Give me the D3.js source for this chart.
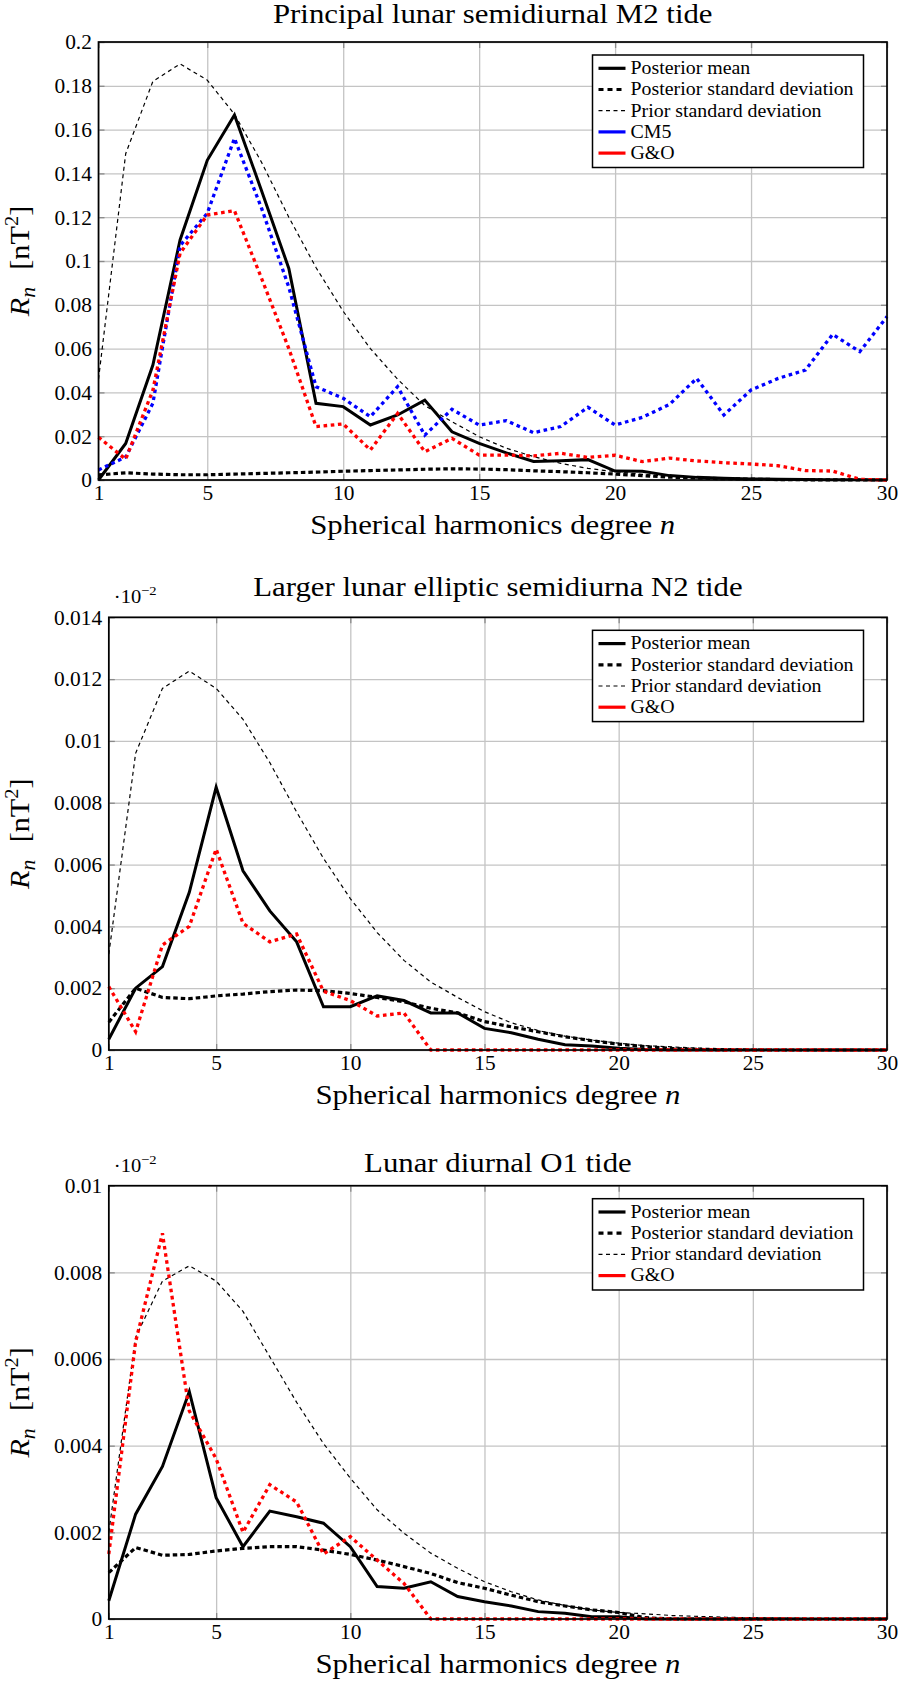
<!DOCTYPE html>
<html><head><meta charset="utf-8">
<script src="https://cdn.jsdelivr.net/npm/d3@7/dist/d3.min.js"></script>
<style>
html,body{margin:0;padding:0;background:#fff;}
svg{display:block;}
svg text{font-family:"Liberation Serif","DejaVu Serif","Noto Serif",serif !important;fill:#000;}
</style></head><body>
<svg id="chart" width="898" height="1682"></svg>
<script>
// ---------- data ----------
const degrees = [1,2,3,4,5,6,7,8,9,10,11,12,13,14,15,16,17,18,19,20,21,22,23,24,25,26,27,28,29,30];
const xTicks = [1,5,10,15,20,25,30];

const m2YTicks = [0,0.02,0.04,0.06,0.08,0.1,0.12,0.14,0.16,0.18,0.2];
const n2YTicks = [0,0.002,0.004,0.006,0.008,0.01,0.012,0.014];
const o1YTicks = [0,0.002,0.004,0.006,0.008,0.01];

const m2Mean   = [0,0.0167,0.0525,0.1096,0.146,0.1667,0.132,0.0966,0.035,0.0335,0.0251,0.0297,0.0365,0.022,0.0167,0.0124,0.0085,0.0088,0.0093,0.0041,0.004,0.002,0.0012,0.0008,0.0005,0.0003,0.0002,0.0001,0.0001,0];
const m2PostSd = [0.0023,0.0033,0.0027,0.0024,0.0024,0.0027,0.003,0.0033,0.0036,0.004,0.0043,0.0046,0.0049,0.0051,0.005,0.0047,0.0042,0.0038,0.0033,0.0027,0.002,0.0013,0.0009,0.0006,0.0004,0.0002,0.0001,0.0001,0,0];
const m2Prior  = [0.046,0.149,0.182,0.19,0.1826,0.167,0.145,0.12,0.097,0.077,0.06,0.046,0.034,0.0266,0.0198,0.0145,0.0107,0.0076,0.0053,0.0038,0.0026,0.0018,0.0012,0.0008,0.0005,0.0003,0.0002,0.0001,0.0001,0];
const m2CM5    = [0.0046,0.0105,0.035,0.107,0.1218,0.156,0.124,0.088,0.0426,0.0373,0.0289,0.0426,0.0205,0.0323,0.0251,0.0271,0.0216,0.0244,0.0332,0.0251,0.0286,0.0345,0.0464,0.0297,0.0411,0.0464,0.0502,0.0665,0.0586,0.0746];
const m2GO     = [0.0195,0.0095,0.041,0.1035,0.121,0.123,0.092,0.06,0.0244,0.0256,0.0137,0.0304,0.0129,0.019,0.0114,0.0114,0.011,0.0122,0.0103,0.0113,0.0084,0.01,0.0087,0.0079,0.0073,0.0065,0.0043,0.0041,0.0003,0];

const n2Mean   = [0.00035,0.002,0.0027,0.0051,0.0085,0.0058,0.0045,0.0035,0.0014,0.0014,0.00175,0.0016,0.0012,0.0012,0.0007,0.00056,0.00035,0.00017,0.00013,0.00006,0.00002,0,0,0,0,0,0,0,0,0];
const n2PostSd = [0.0009,0.002,0.0017,0.00166,0.00175,0.00181,0.00189,0.00194,0.00192,0.00183,0.0017,0.00156,0.00135,0.0012,0.00092,0.00075,0.00059,0.00043,0.0003,0.00019,0.00011,0.00005,0.00002,0,0,0,0,0,0,0];
const n2Prior  = [0.0031,0.0096,0.0117,0.01226,0.0117,0.0107,0.0093,0.0077,0.0062,0.0049,0.0038,0.0029,0.0022,0.0017,0.00124,0.00088,0.00063,0.00045,0.00032,0.00022,0.00014,0.0001,0.00006,0.00004,0.00003,0.00002,0.00001,0,0,0];
const n2GO     = [0.00205,0.00059,0.0034,0.004,0.0065,0.0041,0.0035,0.00375,0.0019,0.0016,0.0011,0.0012,0,0,0,0,0,0,0,0,0,0,0,0,0,0,0,0,0,0];

const o1Mean   = [0.00042,0.00242,0.00352,0.00525,0.0028,0.00167,0.00249,0.00236,0.00221,0.00167,0.00075,0.00071,0.00086,0.00052,0.0004,0.0003,0.00017,0.00013,0.00005,0.00005,0,0,0,0,0,0,0,0,0,0];
const o1PostSd = [0.00107,0.00165,0.00147,0.00149,0.00157,0.00163,0.00167,0.00167,0.00159,0.00149,0.00136,0.00121,0.00105,0.00084,0.00071,0.00055,0.0004,0.0003,0.00021,0.00015,0.00003,0,0,0,0,0,0,0,0,0];
const o1Prior  = [0.002,0.0065,0.0078,0.00815,0.0078,0.0071,0.00605,0.005,0.00405,0.00325,0.00252,0.00198,0.00152,0.00117,0.00086,0.00063,0.00044,0.00031,0.00021,0.00015,0.00012,0.00008,0.00006,0.00004,0.00003,0.00002,0.00001,0,0,0];
const o1GO     = [0.0015,0.0064,0.0089,0.0048,0.0037,0.002,0.0031,0.0027,0.0015,0.0019,0.00136,0.00082,0,0,0,0,0,0,0,0,0,0,0,0,0,0,0,0,0,0];

const titles = ["Principal lunar semidiurnal M2 tide","Larger lunar elliptic semidiurna N2 tide","Lunar diurnal O1 tide"];
const legendNames = {mean:"Posterior mean", postSd:"Posterior standard deviation", prior:"Prior standard deviation", cm5:"CM5", go:"G&O"};

// ---------- styles ----------
const lineStyle = {
  mean:   {stroke:"#000",    width:3.0, dash:null},
  postSd: {stroke:"#000",    width:3.2, dash:"4.5,3"},
  prior:  {stroke:"#000",    width:1.2, dash:"4,3.5"},
  cm5:    {stroke:"#0000ff", width:3.3, dash:"3.6,3.6"},
  go:     {stroke:"#ff0000", width:3.3, dash:"3.6,3.6"}
};
const legendStyle = {
  mean:   {stroke:"#000",    width:3.2, dash:null},
  postSd: {stroke:"#000",    width:3.2, dash:"5,4"},
  prior:  {stroke:"#000",    width:1.2, dash:"4,3.5"},
  cm5:    {stroke:"#0000ff", width:3.2, dash:null},
  go:     {stroke:"#ff0000", width:3.2, dash:null}
};

const panels = [
  {title:titles[0], yTicks:m2YTicks, yMax:0.2, left:98.5, top:42, bottom:480, titleOff:18.7, expo:false,
   series:{mean:m2Mean, postSd:m2PostSd, prior:m2Prior, cm5:m2CM5, go:m2GO}},
  {title:titles[1], yTicks:n2YTicks, yMax:0.014, left:108.8, top:617.3, bottom:1050, titleOff:21.3, expo:true,
   series:{mean:n2Mean, postSd:n2PostSd, prior:n2Prior, go:n2GO}},
  {title:titles[2], yTicks:o1YTicks, yMax:0.01, left:108.8, top:1185.7, bottom:1619, titleOff:13.5, expo:true,
   series:{mean:o1Mean, postSd:o1PostSd, prior:o1Prior, go:o1GO}}
];
const RIGHT = 887;
const fmt = d3.format(".3~f");
const svg = d3.select("#chart");
svg.append("rect").attr("width",898).attr("height",1682).attr("fill","#fff");

panels.forEach((p,pi) => {
  const w = RIGHT - p.left, h = p.bottom - p.top;
  const x = d3.scaleLinear().domain([1,30]).range([0,w]);
  const y = d3.scaleLinear().domain([0,p.yMax]).range([h,0]);
  const g = svg.append("g").attr("transform",`translate(${p.left},${p.top})`);

  // grid
  const gx = g.append("g").attr("transform",`translate(0,${h})`)
    .call(d3.axisBottom(x).tickValues(xTicks).tickSize(-h).tickFormat(""));
  const gy = g.append("g").call(d3.axisLeft(y).tickValues(p.yTicks).tickSize(-w).tickFormat(""));
  [gx,gy].forEach(a => { a.select(".domain").remove(); a.selectAll("line").attr("stroke","#c4c4c4").attr("stroke-width",1.3); });

  // inward ticks
  const tk = [
    g.append("g").attr("transform",`translate(0,${h})`).call(d3.axisBottom(x).tickValues(xTicks).tickSize(-6).tickFormat("")),
    g.append("g").call(d3.axisTop(x).tickValues(xTicks).tickSize(-6).tickFormat("")),
    g.append("g").call(d3.axisLeft(y).tickValues(p.yTicks).tickSize(-6).tickFormat("")),
    g.append("g").attr("transform",`translate(${w},0)`).call(d3.axisRight(y).tickValues(p.yTicks).tickSize(-6).tickFormat(""))
  ];
  tk.forEach(a => { a.select(".domain").remove(); a.selectAll("line").attr("stroke","#8a8a8a").attr("stroke-width",1.3); });

  // series
  const clipId = "clip"+pi;
  g.append("clipPath").attr("id",clipId).append("rect").attr("x",-2).attr("y",-2).attr("width",w+4).attr("height",h+4);
  const line = d3.line().x((d,i)=>x(degrees[i])).y(d=>y(d));
  Object.keys(p.series).forEach(k => {
    const s = lineStyle[k];
    g.append("path").datum(p.series[k]).attr("d",line)
      .attr("clip-path",`url(#${clipId})`)
      .attr("fill","none").attr("stroke",s.stroke).attr("stroke-width",s.width)
      .attr("stroke-dasharray",s.dash).attr("stroke-linejoin","miter").attr("stroke-miterlimit",4)
      .attr("stroke-linecap","butt");
  });

  // frame
  g.append("rect").attr("width",w).attr("height",h).attr("fill","none").attr("stroke","#000").attr("stroke-width",1.7);

  // tick labels
  const TSX = 1.07;
  const xl = g.append("g").attr("transform",`translate(0,${h})`)
    .call(d3.axisBottom(x).tickValues(xTicks).tickSize(0).tickPadding(6.2).tickFormat(d3.format("d")));
  xl.attr("font-family",null).attr("font-size",null);
  xl.select(".domain").remove();
  xl.selectAll("text").attr("font-size",20).attr("transform",`scale(${TSX},1)`);
  const yl = g.append("g")
    .call(d3.axisLeft(y).tickValues(p.yTicks).tickSize(0).tickPadding(0).tickFormat(fmt));
  yl.attr("font-family",null).attr("font-size",null);
  yl.select(".domain").remove();
  yl.selectAll("text").attr("font-size",20)
    .attr("x",-6.6/TSX).attr("dy","0.34em").attr("transform",`scale(${TSX},1)`);

  // title
  g.append("text").attr("transform",`translate(${w/2},${-p.titleOff}) scale(1.1,1)`)
    .attr("text-anchor","middle").attr("font-size",28).text(p.title);

  // x label
  const xt = g.append("text").attr("transform",`translate(${w/2},${h+54}) scale(1.1,1)`)
    .attr("text-anchor","middle").attr("font-size",28);
  xt.append("tspan").text("Spherical harmonics degree ");
  xt.append("tspan").attr("font-style","italic").text("n");

  // y label
  const yt = g.append("text").attr("transform",`translate(${29 - p.left},${h/2}) rotate(-90) scale(1.08,1)`)
    .attr("text-anchor","middle").attr("font-size",28);
  yt.append("tspan").attr("font-style","italic").text("R");
  yt.append("tspan").attr("font-style","italic").attr("font-size",20).attr("dy",6).text("n");
  yt.append("tspan").attr("dy",-6).attr("dx",16).text("[nT");
  yt.append("tspan").attr("font-size",19).attr("dy",-11).text("2");
  yt.append("tspan").attr("dy",11).text("]");

  // exponent marker
  if (p.expo) {
    const et = g.append("text").attr("transform",`translate(5,-14) scale(1.08,1)`).attr("font-size",19);
    et.append("tspan").text("·10");
    et.append("tspan").attr("font-size",13.5).attr("dy",-8).text("−2");
  }

  // legend
  const keys = Object.keys(p.series);
  const rowH = 21.2;
  const lw = 271, lh = keys.length*rowH + 6.5;
  const lg = g.append("g").attr("transform",`translate(${w - 23.5 - lw},13)`);
  lg.append("rect").attr("width",lw).attr("height",lh).attr("fill","#fff").attr("stroke","#000").attr("stroke-width",1.5);
  keys.forEach((k,i) => {
    const cy = 13.3 + i*rowH;
    const s = legendStyle[k];
    lg.append("line").attr("x1",6).attr("x2",33).attr("y1",cy).attr("y2",cy)
      .attr("stroke",s.stroke).attr("stroke-width",s.width).attr("stroke-dasharray",s.dash);
    lg.append("text").attr("transform",`translate(38,${cy}) scale(1.02,1)`).attr("dy","0.3em")
      .attr("font-size",19.5).text(legendNames[k]);
  });
});
</script>
</body></html>
